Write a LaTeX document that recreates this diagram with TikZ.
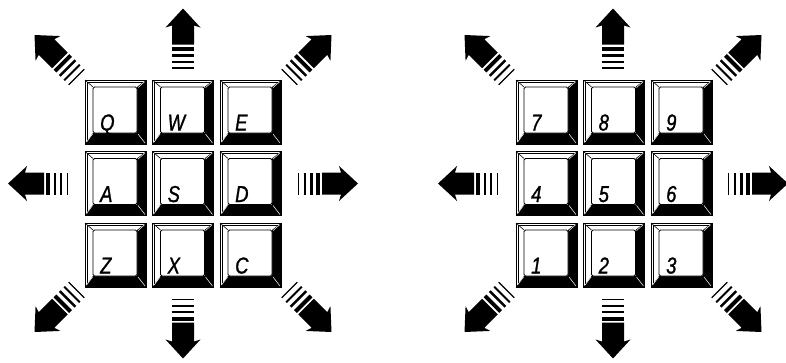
\documentclass[tikz,border=0pt]{standalone}
\usepackage{fontspec}
\newfontfamily\keyfont[FakeStretch=0.8,FakeBold=1.2]{Liberation Sans}
\usetikzlibrary{calc}

\begin{document}
\begin{tikzpicture}[x=1pt,y=-1pt]
\tikzset{
  keylbl/.style={font=\keyfont\itshape\fontsize{23}{23}\selectfont,anchor=base west,inner sep=0pt},
  keycap/.pic={
    \filldraw[fill=white,line width=1pt] (0,0) rectangle (61,64);
    \fill (61,0) -- (61,64) -- (0,64) -- (8,53) -- (52,53) -- (52,7) -- cycle;
    \draw[line width=0.5pt] (2,2) -- (58.4,2) (2,2) -- (2,61);
    \draw[line width=0.6pt] (0,0) -- (8,7);
    \draw[white,line width=0.5pt] (59.6,1.8) -- (53,7.6) (1.6,62) -- (7.6,54) (53,54) -- (60,63);
    \filldraw[fill=white,line width=0.8pt,rounded corners=1.5pt] (8,7) rectangle (52,53);
    \node[keylbl] (-lbl) at (15,50.5) {\tikzpictext};
  },
  pics/dirarrow/.style={code={
    \fill (#1+60,0) -- (#1+41,17.5) -- (#1+43,11) -- (#1+24,11)
      -- (#1+24,-11) -- (#1+43,-11) -- (#1+41,-17.5) -- cycle;
    \fill (#1+18,-11) rectangle (#1+22,11);
    \fill (#1+12,-11) rectangle (#1+14.5,11);
    \fill (#1+6,-11) rectangle (#1+8,11);
    \fill (#1,-11) rectangle (#1+1.3,11);
  }},
}
\useasboundingbox (0,0) rectangle (786,362);

% left pad: letters
\foreach \r/\a/\b/\c in {0/Q/W/E,1/A/S/D,2/Z/X/C}
  \foreach \cl/\t in {0/\a,1/\b,2/\c}
    \pic (k\t) at ({85+67.5*\cl},{80+71.5*\r}) [pic text=\t] {keycap};

% right pad: digits
\foreach \r/\a/\b/\c in {0/7/8/9,1/4/5/6,2/1/2/3}
  \foreach \cl/\t in {0/\a,1/\b,2/\c}
    \pic (n\t) at ({516+67.5*\cl},{80+71.5*\r}) [pic text=\t] {keycap};

% direction arrows round each pad
\coordinate (cL) at (183,183.5);
\coordinate (cR) at (613,183.5);
\foreach \cc in {cL,cR} {
  \foreach \ang in {0,90,180,270}
    \pic[rotate=\ang] at (\cc) {dirarrow=115};
  \foreach \ang in {45,135,225,315}
    \pic[rotate=\ang] at (\cc) {dirarrow=150};
}
\end{tikzpicture}
\end{document}
